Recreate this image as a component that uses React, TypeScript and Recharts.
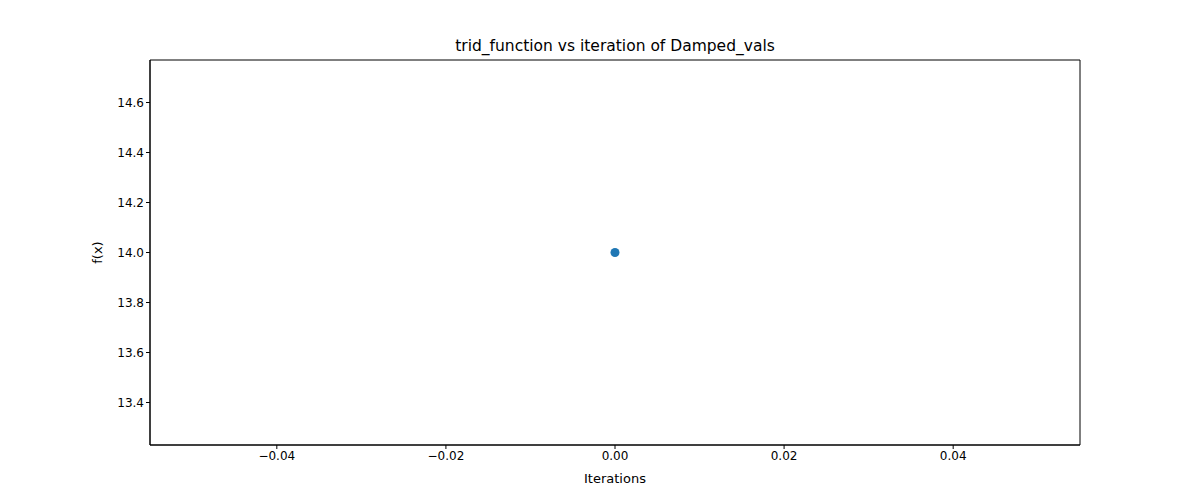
import { ScatterChart, Scatter, XAxis, YAxis, ReferenceArea } from 'recharts';

const iterations = [0];
const fValues = [14.0];
const xTicks = [-0.04, -0.02, 0, 0.02, 0.04];
const yTicks = [13.4, 13.6, 13.8, 14.0, 14.2, 14.4, 14.6];

const points = iterations.map((it, i) => ({ x: it, y: fValues[i] }));
const fmt = (v: number, d: number) => (v < 0 ? '\u2212' + Math.abs(v).toFixed(d) : v.toFixed(d));
const font = { fontFamily: 'DejaVu Sans', fontSize: 12, fill: '#000' };

export default function App() {
  return (
    <div style={{ position: 'absolute', left: 0, top: 0, width: 1200, height: 500, background: '#fff', fontFamily: 'DejaVu Sans' }}>
      <div style={{ position: 'absolute', top: 37, left: 150, width: 930, textAlign: 'center', fontSize: 15.5 }}>
        trid_function vs iteration of Damped_vals
      </div>
      <ScatterChart width={1200} height={500} margin={{ top: 60, right: 120, left: 90, bottom: 23 }}>
        <XAxis
          type="number"
          dataKey="x"
          domain={[-0.055, 0.055]}
          ticks={xTicks}
          tickFormatter={(v) => fmt(v, 2)}
          allowDataOverflow
          height={32}
          tick={font}
          tickSize={4}
          stroke="#000"
          label={{ value: 'Iterations', position: 'insideBottom', offset: -6, style: { ...font, fontSize: 13 } }}
        />
        <YAxis
          type="number"
          dataKey="y"
          domain={[13.23, 14.77]}
          ticks={yTicks}
          tickFormatter={(v) => fmt(v, 1)}
          allowDataOverflow
          width={60}
          tick={font}
          tickSize={4}
          stroke="#000"
          label={{ value: 'f(x)', angle: -90, position: 'insideLeft', offset: 7, style: { ...font, fontSize: 13, textAnchor: 'middle' } }}
        />
        <ReferenceArea x1={-0.055} x2={0.055} y1={13.23} y2={14.77} stroke="#000" fill="none" strokeOpacity={1} />
        <Scatter data={points} fill="#1f77b4" isAnimationActive={false} shape={(p: any) => <circle cx={p.cx} cy={p.cy} r={4.5} fill="#1f77b4" />} />
      </ScatterChart>
    </div>
  );
}
